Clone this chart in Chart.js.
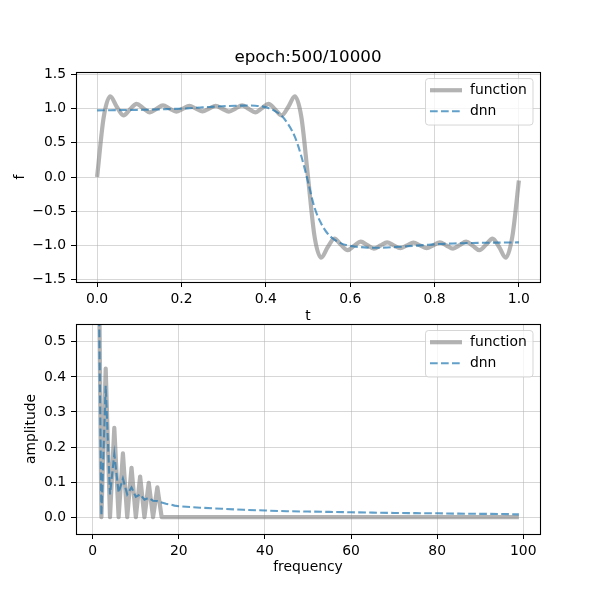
<!DOCTYPE html>
<html>
<head>
<meta charset="utf-8">
<script src="https://cdn.jsdelivr.net/npm/chart.js@4.4.1/dist/chart.umd.min.js"></script>
<style>
  html, body { margin: 0; padding: 0; background: #fff; }
  #wrap { position: relative; width: 600px; height: 600px; }
  canvas { position: absolute; left: 0; }
  #top-chart { top: 0; }
  #bottom-chart { top: 300px; }
</style>
</head>
<body>
<div id="wrap">
  <canvas id="top-chart" width="600" height="330"></canvas>
  <canvas id="bottom-chart" width="600" height="300"></canvas>
</div>
<script>
const titleText = "epoch:500/10000";
const seriesNames = ["function", "dnn"];

// time samples, 1/64 apart on [0, 1]
const tValues = Array.from({ length: 65 }, (_, i) => i / 64);
const funcValues = [
  0, 0.873, 1.180, 1.024, 0.900, 0.991, 1.070, 1.005, 0.945, 0.997, 1.047, 1.001, 0.957, 0.999, 1.040, 1.000, 0.960,
  1.000, 1.040, 0.999, 0.957, 1.001, 1.047, 0.997, 0.945, 1.005, 1.070, 0.991, 0.900, 1.024, 1.180, 0.873, 0,
  -0.873, -1.180, -1.024, -0.900, -0.991, -1.070, -1.005, -0.945, -0.997, -1.047, -1.001, -0.957, -0.999, -1.040, -1.000, -0.960,
  -1.000, -1.040, -0.999, -0.957, -1.001, -1.047, -0.997, -0.945, -1.005, -1.070, -0.991, -0.900, -1.024, -1.180, -0.873, -0.05
];
const dnnValues = [
  0.975, 0.976, 0.977, 0.978, 0.979, 0.980, 0.981, 0.983, 0.985, 0.988, 0.991, 0.994, 0.997, 1.000, 1.006, 1.012, 1.018,
  1.024, 1.030, 1.035, 1.039, 1.042, 1.044, 1.045, 1.043, 1.033, 1.008, 0.965, 0.895, 0.770, 0.590, 0.300, -0.070,
  -0.450, -0.680, -0.830, -0.915, -0.970, -1.000, -1.015, -1.025, -1.032, -1.035, -1.033, -1.030, -1.025, -1.020, -1.013, -1.006,
  -0.999, -0.992, -0.985, -0.980, -0.976, -0.972, -0.969, -0.967, -0.965, -0.963, -0.961, -0.960, -0.959, -0.958, -0.957, -0.956
];

// spectrum
const funcFreq = [1, 2, 3, 4, 5, 6, 7, 8, 9, 10, 11, 12, 13, 14, 15, 16, 99];
const funcAmp = [1.27, 0, 0.424, 0, 0.255, 0, 0.182, 0, 0.141, 0, 0.116, 0, 0.098, 0, 0.085, 0, 0];
const dnnFreq = [1, 2, 3, 4, 5, 6, 7, 8, 9, 10, 11, 12, 13, 14, 15, 16, 17, 18, 19, 20,
  25, 30, 35, 40, 45, 50, 55, 60, 65, 70, 75, 80, 85, 90, 95, 99];
const dnnAmp = [1.1, 0.005, 0.375, 0.065, 0.18, 0.07, 0.11, 0.065, 0.085, 0.058, 0.065, 0.05, 0.055, 0.047, 0.046, 0.042, 0.038, 0.036, 0.033, 0.031,
  0.027, 0.024, 0.021, 0.019, 0.017, 0.016, 0.015, 0.014, 0.013, 0.012, 0.0115, 0.011, 0.010, 0.0095, 0.009, 0.008];

const tTicks = [0, 0.2, 0.4, 0.6, 0.8, 1.0];
const fTicks = [-1.5, -1, -0.5, 0, 0.5, 1, 1.5];
const freqTicks = [0, 20, 40, 60, 80, 100];
const ampTicks = [0, 0.1, 0.2, 0.3, 0.4, 0.5];

const GRAY = "rgba(128,128,128,0.6)";
const BLUE = "rgba(31,119,180,0.7)";
const GRID = "rgba(176,176,176,0.5)";

Chart.defaults.font.family = "'DejaVu Sans', sans-serif";
Chart.defaults.font.size = 13.9;
Chart.defaults.color = "#000";

function fmt(digits) {
  return v => (v < 0 ? "\u2212" : "") + Math.abs(v).toFixed(digits);
}

function axis(o) {
  return {
    type: "linear",
    min: o.min,
    max: o.max,
    afterBuildTicks: s => { s.ticks = o.ticks.map(v => ({ value: v })); },
    afterFit: s => {
      if (o.width) s.width = o.width;
      if (o.height) s.height = o.height;
    },
    ticks: { callback: fmt(o.digits), padding: o.tickPad, maxRotation: 0, autoSkip: false },
    grid: { color: GRID, lineWidth: 1, tickColor: "#000", tickLength: 5, tickWidth: 1 },
    border: { display: false },
    title: { display: true, text: o.title, padding: o.titlePad }
  };
}

// black box round the plot area
const frame = {
  id: "frame",
  afterDatasetsDraw(chart) {
    const { ctx, chartArea: a } = chart;
    ctx.save();
    ctx.strokeStyle = "#000";
    ctx.lineWidth = 1.1;
    ctx.strokeRect(Math.round(a.left) + 0.5, Math.round(a.top) + 0.5,
      Math.round(a.right - a.left), Math.round(a.bottom - a.top));
    ctx.restore();
  }
};

// matplotlib-like legend in the upper right corner
const boxLegend = {
  id: "boxLegend",
  afterDraw(chart) {
    const { ctx, chartArea: a } = chart;
    const w = 107.5, h = 46.5;
    const x = a.right - 7 - w, y = a.top + 6.5;
    ctx.save();
    ctx.beginPath();
    ctx.roundRect(x, y, w, h, 3);
    ctx.fillStyle = "rgba(255,255,255,0.8)";
    ctx.fill();
    ctx.strokeStyle = "rgba(204,204,204,0.8)";
    ctx.lineWidth = 1;
    ctx.stroke();
    chart.data.datasets.forEach((ds, i) => {
      const ry = y + 11.7 + i * 21;
      ctx.beginPath();
      ctx.setLineDash(ds.borderDash || []);
      ctx.strokeStyle = ds.borderColor;
      ctx.lineWidth = ds.borderWidth;
      ctx.moveTo(x + 4.5, ry);
      ctx.lineTo(x + 36.5, ry);
      ctx.stroke();
      ctx.setLineDash([]);
      ctx.fillStyle = "#000";
      ctx.font = "13.9px 'DejaVu Sans', sans-serif";
      ctx.textBaseline = "middle";
      ctx.fillText(ds.label, x + 44.5, ry);
    });
    ctx.restore();
  }
};

function pts(xs, ys) {
  return xs.map((x, i) => ({ x: x, y: ys[i] }));
}

function lineSets(fx, fy, dx, dy, smooth) {
  return [
    {
      label: seriesNames[0], data: pts(fx, fy), borderColor: GRAY, borderWidth: 4.2,
      pointRadius: 0, clip: 0, order: 2, borderJoinStyle: "round",
      cubicInterpolationMode: smooth ? "monotone" : "default", tension: 0
    },
    {
      label: seriesNames[1], data: pts(dx, dy), borderColor: BLUE, borderWidth: 2.1,
      borderDash: [7.7, 3.3], pointRadius: 0, clip: 0, order: 1,
      cubicInterpolationMode: smooth ? "monotone" : "default", tension: 0
    }
  ];
}

new Chart(document.getElementById("top-chart"), {
  type: "line",
  data: { datasets: lineSets(tValues, funcValues, tValues, dnnValues, true) },
  plugins: [frame, boxLegend],
  options: {
    responsive: false,
    animation: false,
    devicePixelRatio: 1,
    layout: { padding: { top: 0, right: 60, bottom: 0, left: 0 } },
    scales: {
      x: axis({ min: -0.05, max: 1.05, ticks: tTicks, digits: 1, tickPad: 4, height: 48,
        title: "t", titlePad: { top: 0, bottom: 5.6 } }),
      y: axis({ min: -1.535, max: 1.535, ticks: fTicks, digits: 1, tickPad: 5, width: 76,
        title: "f", titlePad: { top: 12, bottom: 0 } })
    },
    plugins: {
      legend: { display: false },
      tooltip: { enabled: false },
      title: {
        display: true, text: titleText, fullSize: false,
        font: { size: 16.7, weight: "normal", lineHeight: 1.2 },
        padding: { top: 48, bottom: 4 }
      }
    }
  }
});

new Chart(document.getElementById("bottom-chart"), {
  type: "line",
  data: { datasets: lineSets(funcFreq, funcAmp, dnnFreq, dnnAmp, false) },
  plugins: [frame, boxLegend],
  options: {
    responsive: false,
    animation: false,
    devicePixelRatio: 1,
    layout: { padding: { top: 24, right: 60, bottom: 0, left: 0 } },
    scales: {
      x: axis({ min: -3.9, max: 103.9, ticks: freqTicks, digits: 0, tickPad: 4, height: 66,
        title: "frequency", titlePad: { top: 0, bottom: 24.6 } }),
      y: axis({ min: -0.048, max: 0.551, ticks: ampTicks, digits: 1, tickPad: 5, width: 76,
        title: "amplitude", titlePad: { top: 23, bottom: 0 } })
    },
    plugins: {
      legend: { display: false },
      tooltip: { enabled: false }
    }
  }
});
</script>
</body>
</html>
